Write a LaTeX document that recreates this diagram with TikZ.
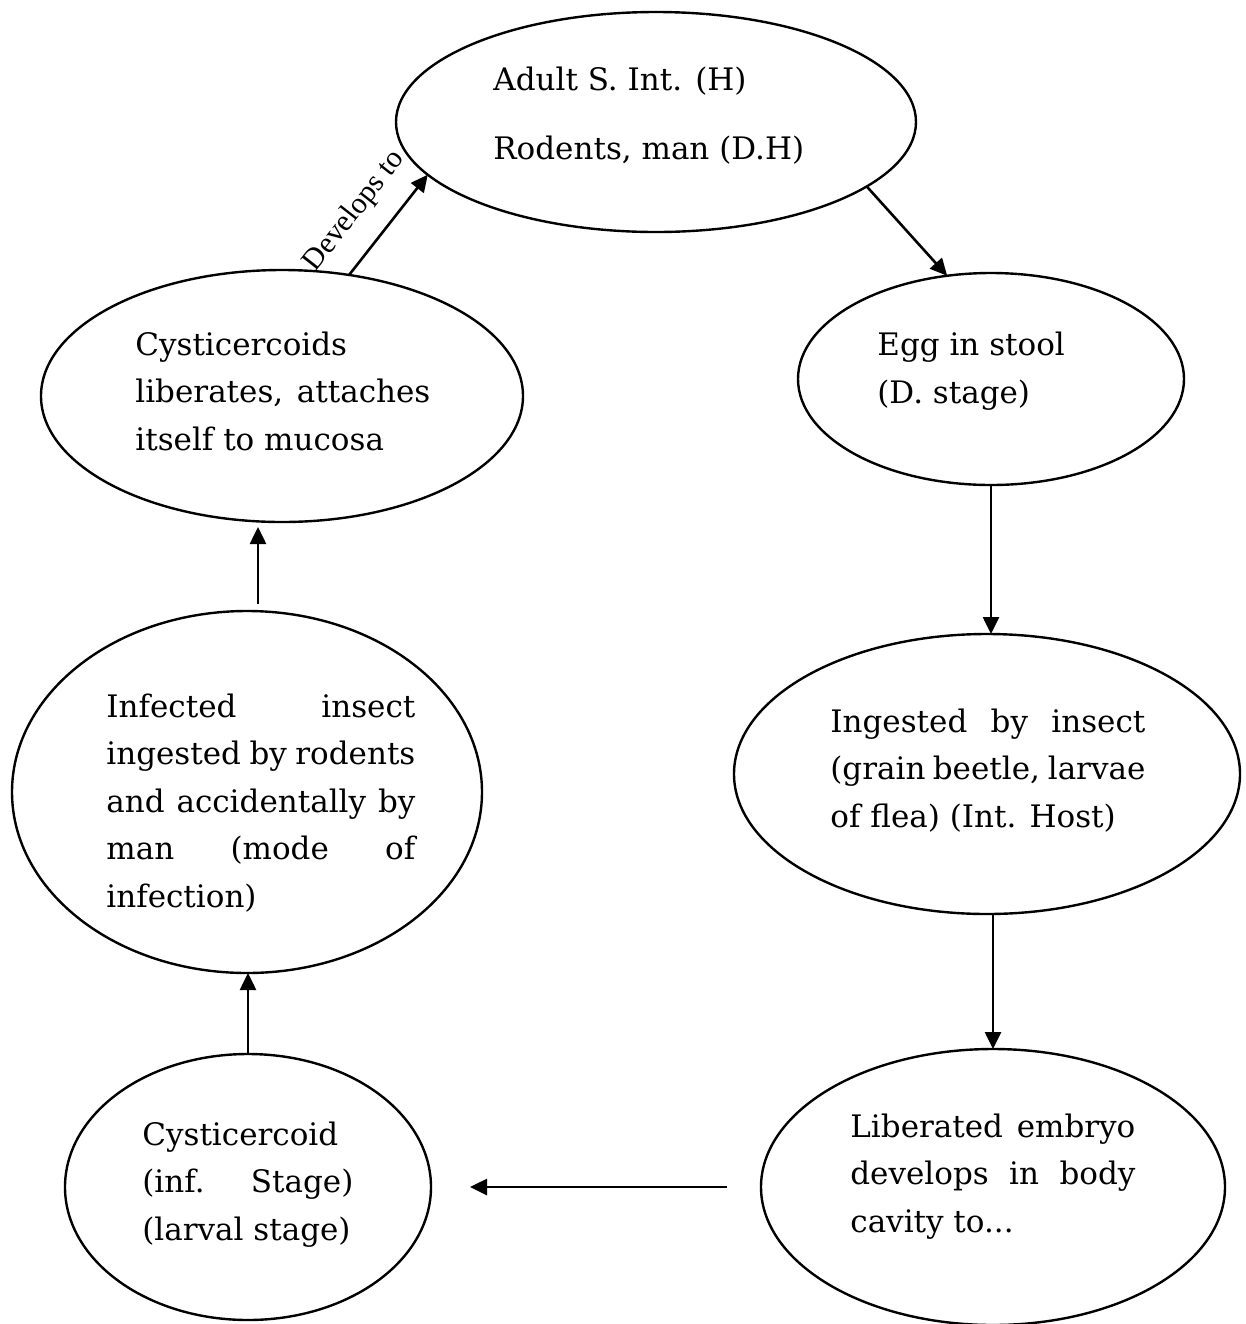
\documentclass[tikz,border=0pt]{standalone}
\usepackage{fontspec}
\setmainfont{DejaVu Serif}
\newfontfamily\lblfont{Liberation Serif}
\usetikzlibrary{shapes.geometric,arrows.meta}
\tikzset{
  stage/.style={ellipse, draw, line width=1.2pt, inner sep=0pt, outer sep=0pt},
  txt/.style={anchor=base west, inner sep=0pt, align=left, font=\fontsize{15.5}{23.75}\selectfont},
  arr/.style={-{Triangle[length=8.5pt,width=8pt]}, line width=1.3pt},
  lbl/.style={inner sep=0pt, font=\lblfont\fontsize{15}{17}\selectfont}
}
\begin{document}
\begin{tikzpicture}[x=0.5pt,y=-0.5pt]
\useasboundingbox[fill=white] (0,0) rectangle (1246,1324);
% ellipses
\node[stage, minimum width=260pt, minimum height=110pt] (adult) at (656,122) {};
\node[stage, minimum width=241pt, minimum height=126pt] (cysts) at (282,396) {};
\node[stage, minimum width=193pt, minimum height=106pt] (egg) at (991,379) {};
\node[stage, minimum width=235pt, minimum height=181pt] (infected) at (247,792) {};
\node[stage, minimum width=253pt, minimum height=140pt] (ingested) at (987,774) {};
\node[stage, minimum width=232pt, minimum height=138pt] (liberated) at (993,1187) {};
\node[stage, minimum width=183pt, minimum height=133pt] (cyst) at (248,1187) {};
% texts (anchored at the baseline of the last line)
\node[txt] (tadult) at (493,159) {Adult S. Int. (H)\\[10.75pt]Rodents, man (D.H)};
\node[txt] (tcysts) at (135,450) {Cysticercoids\\\makebox[147.5pt][s]{liberates, attaches}\\itself to mucosa};
\node[txt, font=\fontsize{15.5}{24}\selectfont] (tegg) at (877,403) {Egg in stool\\(D. stage)};
\node[txt] (tinfected) at (106,907) {\makebox[154.5pt][s]{Infected insect}\\\makebox[154.5pt][s]{ingested by rodents}\\\makebox[154.5pt][s]{and accidentally by}\\\makebox[154.5pt][s]{man (mode of}\\infection)};
\node[txt] (tingested) at (830,827) {\makebox[157.5pt][s]{Ingested by insect}\\\makebox[157.5pt][s]{(grain beetle, larvae}\\of flea) (Int. Host)};
\node[txt] (tcyst) at (142,1240) {Cysticercoid\\\makebox[105.5pt][s]{(inf. Stage)}\\(larval stage)};
\node[txt] (tliberated) at (850,1232) {\makebox[142.5pt][s]{Liberated embryo}\\\makebox[142.5pt][s]{develops in body}\\cavity to...};
% connectors
\draw[arr] (adult.-17.8) -- (egg.113.3);
\draw[arr] (egg.south) -- (egg.south |- ingested.north);
\draw[arr] (ingested.south -| liberated.north) -- (liberated.north);
\draw[arr, shorten <=17pt, shorten >=19.5pt] (liberated.west) -- (cyst.east);
\draw[arr] (cyst.north) -- (cyst.north |- infected.south);
\draw[arr, shorten <=3.5pt, shorten >=2.5pt] ([xshift=5.5pt]infected.north) -- ([xshift=5.5pt]infected.north |- cysts.south);
\draw[arr] (cysts.61.6) -- node[lbl, sloped, above=10pt, pos=0.42] (dev) {Develops to} (adult.193.2);
\end{tikzpicture}
\end{document}
